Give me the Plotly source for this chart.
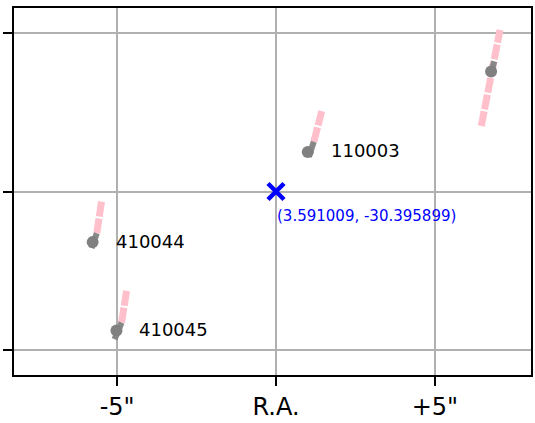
import plotly.graph_objects as go

# Object data (offsets in arcsec from field centre)
names = ["110003", "", "410044", "410045"]
ra_off = [1.00, 6.77, -5.77, -5.02]
dec_off = [1.25, 3.79, -1.60, -4.39]
# gray segment (start/end) and pink dashed segment (start/end), arcsec
gray_x0 = [1.03, 6.74, -5.80, -5.08]
gray_y0 = [1.10, 3.67, -1.79, -4.67]
gray_x1 = [1.19, 6.87, -5.64, -4.86]
gray_y1 = [1.57, 4.11, -1.32, -4.14]
pink_x0 = [1.19, 6.46, -5.64, -4.86]
pink_y0 = [1.57, 2.07, -1.32, -4.14]
pink_x1 = [1.44, 7.05, -5.49, -4.70]
pink_y1 = [2.54, 5.11, -0.31, -3.13]

centre_label = "(3.591009, -30.395899)"
tick_vals = [-5, 0, 5]
tick_text = ['-5"', "R.A.", '+5"']

FONT = "DejaVu Sans"

fig = go.Figure()

for i in range(len(names)):
    fig.add_trace(go.Scatter(
        x=[pink_x0[i], pink_x1[i]], y=[pink_y0[i], pink_y1[i]],
        mode="lines", line=dict(color="pink", width=7, dash="15px,2px"),
        hoverinfo="skip", showlegend=False))
for i in range(len(names)):
    fig.add_trace(go.Scatter(
        x=[gray_x0[i], gray_x1[i]], y=[gray_y0[i], gray_y1[i]],
        mode="lines", line=dict(color="#888888", width=6),
        hoverinfo="skip", showlegend=False))

fig.add_trace(go.Scatter(
    x=ra_off, y=dec_off, mode="markers",
    marker=dict(color="gray", size=12), showlegend=False))

fig.add_trace(go.Scatter(
    x=[0], y=[0], mode="markers",
    marker=dict(symbol="x-thin", size=16, line=dict(color="blue", width=4.5)),
    showlegend=False))

for i, n in enumerate(names):
    if n:
        fig.add_annotation(x=ra_off[i], y=dec_off[i], text=n, showarrow=False,
                           xanchor="left", yanchor="middle", xshift=21, yshift=1,
                           font=dict(family=FONT, size=18, color="black"))

fig.add_annotation(x=0, y=0, text=centre_label, showarrow=False,
                   xanchor="left", yanchor="middle", xshift=-1, yshift=-24,
                   font=dict(family=FONT, size=15, color="blue"))

fig.update_layout(
    width=535, height=423,
    margin=dict(l=14, r=2, t=8, b=45),
    plot_bgcolor="white", paper_bgcolor="white",
    font=dict(family=FONT),
)
fig.update_xaxes(
    range=[-8.245, 8.025], tickvals=tick_vals, ticktext=tick_text,
    showgrid=True, gridcolor="#b0b0b0", gridwidth=2, zeroline=False,
    showline=True, linecolor="black", linewidth=1.6, mirror=True,
    ticks="outside", ticklen=9, tickwidth=1.6, tickcolor="black",
    tickfont=dict(family=FONT, size=24, color="black"),
)
fig.update_yaxes(
    range=[-5.8, 5.8], tickvals=tick_vals, showticklabels=False,
    showgrid=True, gridcolor="#b0b0b0", gridwidth=2, zeroline=False,
    showline=True, linecolor="black", linewidth=1.6, mirror=True,
    ticks="outside", ticklen=9, tickwidth=1.6, tickcolor="black",
)

fig.write_html(
    "out.html",
    config={"displayModeBar": False},
    post_script=(
        "document.documentElement.style.margin='0';"
        "document.documentElement.style.padding='0';"
        "document.body.style.margin='0';"
        "document.body.style.padding='0';"
        "document.body.style.overflow='hidden';"
        "document.documentElement.style.overflow='hidden';"
        "var gd=document.getElementById('{plot_id}');"
        "gd.parentElement.style.margin='0';gd.parentElement.style.padding='0';"
        "gd.style.position='fixed';gd.style.left='0px';gd.style.top='0px';"
    ),
)
